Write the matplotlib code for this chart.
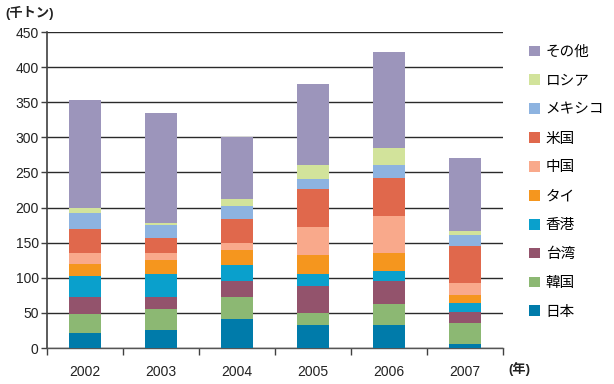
import numpy as np
import matplotlib
matplotlib.use('Agg')
import matplotlib.pyplot as plt
from matplotlib.patches import Patch
from matplotlib.ticker import FixedLocator

plt.rcParams['font.family'] = ['Liberation Sans', 'Noto Sans CJK JP', 'DejaVu Sans']

years = ['2002', '2003', '2004', '2005', '2006', '2007']

# stacked from bottom to top
countries = ['日本', '韓国', '台湾', '香港', 'タイ', '中国', '米国', 'メキシコ', 'ロシア', 'その他']
japan = [22, 25, 42, 33, 33, 6]
korea = [27, 30, 30, 17, 29, 30]
taiwan = [23, 18, 23, 38, 33, 15]
hongkong = [31, 32, 23, 18, 15, 13]
thailand = [17, 20, 21, 26, 25, 11]
china = [15, 10, 10, 40, 53, 17]
usa = [34, 21, 34, 54, 54, 53]
mexico = [23, 19, 19, 14, 19, 16]
russia = [7, 3, 10, 20, 24, 6]
others = [154, 157, 89, 116, 137, 103]

series = [japan, korea, taiwan, hongkong, thailand, china, usa, mexico, russia, others]
colors = ['#007BAA', '#8CB873', '#93536C', '#0AA0CC', '#F5961E',
          '#F9A98B', '#E0684C', '#8DB3E0', '#D2E39B', '#9C95BB']

fig = plt.figure(figsize=(6.14, 3.84), dpi=100)
ax = fig.add_axes([47 / 614, 36 / 384, 456 / 614, 316 / 384])

x = np.arange(len(years))
bottom = np.zeros(len(years))
for vals, col in zip(series, colors):
    ax.bar(x, vals, width=0.41, bottom=bottom, color=col, zorder=3)
    bottom += np.array(vals)

ax.set_xlim(-0.5, len(years) - 0.5)
ax.set_ylim(0, 450)
ax.set_yticks(np.arange(0, 451, 50))
ax.yaxis.grid(True, color='#2a2a2a', linewidth=1.0, zorder=0)
ax.set_axisbelow(True)

ax.set_xticks(x)
ax.set_xticklabels(years)
ax.xaxis.set_minor_locator(FixedLocator(np.arange(-0.5, len(years), 1.0)))
ax.tick_params(axis='x', which='major', length=0, pad=12, labelsize=10, colors='#222222')
ax.tick_params(axis='x', which='minor', length=5, width=1, color='#404040')
ax.tick_params(axis='y', length=4, width=1, color='#404040', pad=2, labelsize=10, labelcolor='#222222')

for s in ['top', 'right']:
    ax.spines[s].set_visible(False)
ax.spines['left'].set_color('#404040')
ax.spines['left'].set_linewidth(1.2)
ax.spines['bottom'].set_color('#555555')
ax.spines['bottom'].set_linewidth(1.0)

fig.text(5 / 614, 1 - 13 / 384, '(千トン)', fontsize=9.5, fontweight='bold',
         va='center', ha='left', color='#222222')
fig.text(508 / 614, 1 - 369 / 384, '(年)', fontsize=9.5, fontweight='bold',
         va='center', ha='left', color='#222222')

handles = [Patch(facecolor=c, edgecolor='none') for c in colors][::-1]
labels = countries[::-1]
fig.legend(handles, labels, loc='upper left', bbox_to_anchor=(529 / 614, 1 - 45 / 384),
           frameon=False, fontsize=10.5, handlelength=0.75, handleheight=0.75,
           handletextpad=0.4, labelspacing=1.02, borderpad=0, borderaxespad=0)

fig.savefig('out.png', dpi=100)
